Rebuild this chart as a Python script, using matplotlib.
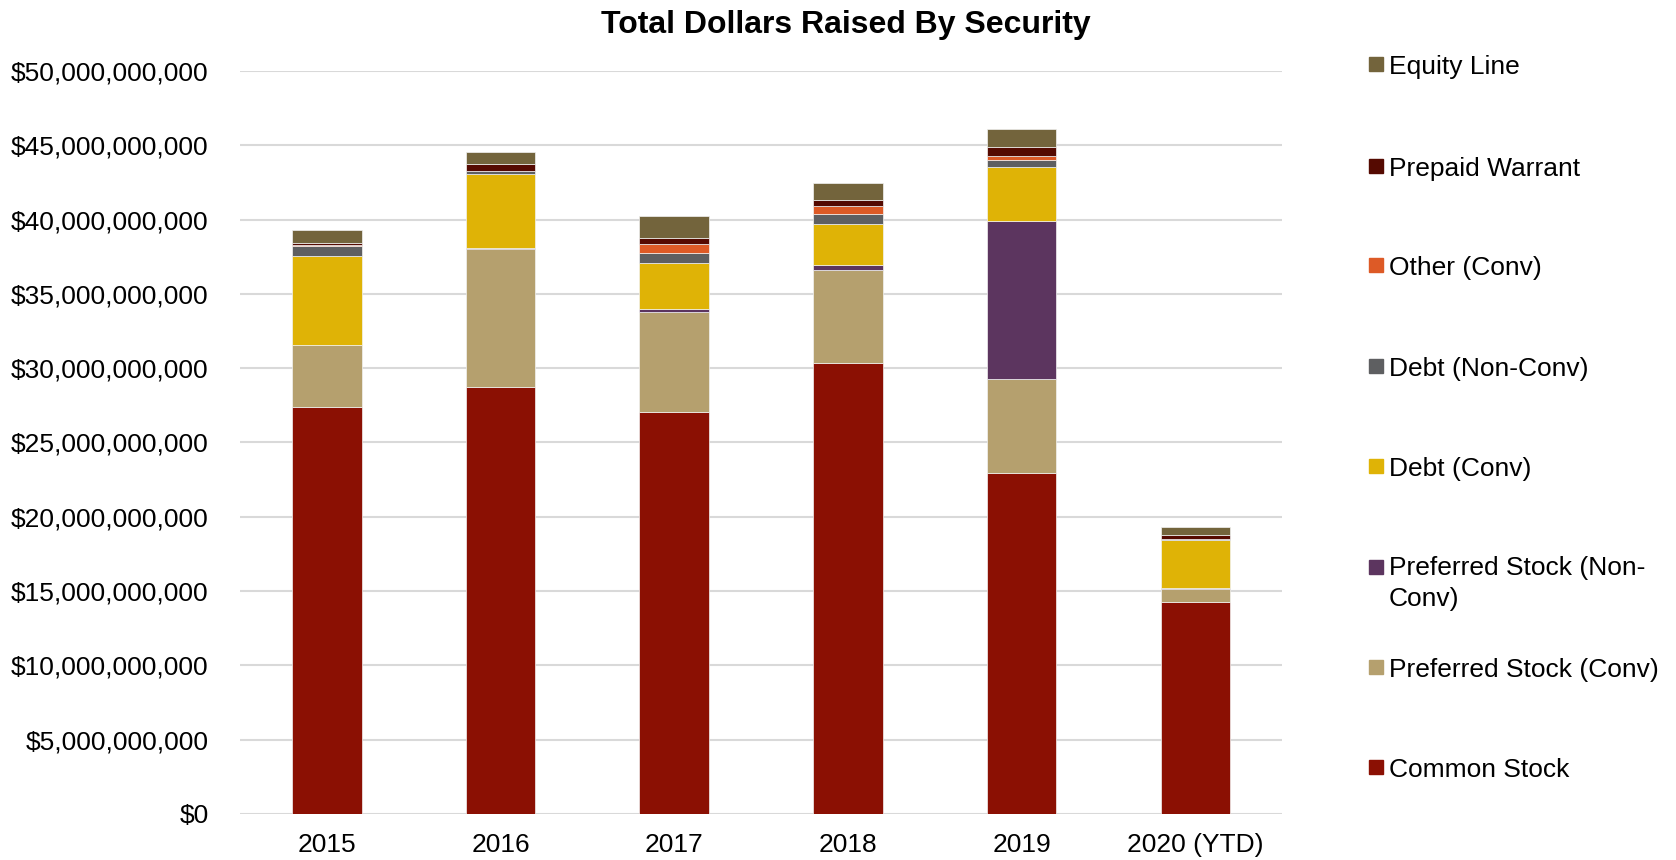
import numpy as np
import matplotlib
matplotlib.use('Agg')
import matplotlib.pyplot as plt
from matplotlib.patches import Rectangle
from matplotlib.ticker import FuncFormatter

plt.rcParams['font.family'] = ['Liberation Sans', 'DejaVu Sans']

# Valores em bilhões de dólares
anos = ['2015', '2016', '2017', '2018', '2019', '2020 (YTD)']
common_stock = [27.38, 28.73, 27.02, 30.35, 22.93, 14.29]
pref_conv = [4.18, 9.32, 6.74, 6.24, 6.32, 0.83]
pref_nonconv = [0.03, 0.03, 0.25, 0.36, 10.67, 0.07]
debt_conv = [5.99, 4.97, 3.08, 2.74, 3.61, 3.27]
debt_nonconv = [0.63, 0.22, 0.67, 0.68, 0.45, 0.05]
other_conv = [0.05, 0.03, 0.58, 0.54, 0.29, 0.02]
prepaid_warrant = [0.19, 0.43, 0.43, 0.40, 0.61, 0.22]
equity_line = [0.82, 0.79, 1.46, 1.17, 1.21, 0.59]

series = [
    ('Common Stock', common_stock, '#8B1003'),
    ('Preferred Stock (Conv)', pref_conv, '#B5A06E'),
    ('Preferred Stock (Non-\nConv)', pref_nonconv, '#5C355F'),
    ('Debt (Conv)', debt_conv, '#DFB306'),
    ('Debt (Non-Conv)', debt_nonconv, '#5E5F61'),
    ('Other (Conv)', other_conv, '#DD5A26'),
    ('Prepaid Warrant', prepaid_warrant, '#550A01'),
    ('Equity Line', equity_line, '#73643C'),
]

fig = plt.figure(figsize=(16.76, 8.60), dpi=100)
ax = fig.add_axes([0.1432, 0.0535, 0.6218, 0.864])

x = np.arange(len(anos))
base = np.zeros(len(anos))
for nome, valores, cor in series:
    v = np.array(valores) * 1e9
    ax.bar(x, v, 0.4, bottom=base, color=cor, edgecolor='#F2F2F2', linewidth=0.5, zorder=3)
    base += v

ax.set_xlim(-0.5, len(anos) - 0.5)
ax.set_ylim(0, 50e9)
ax.set_yticks(np.arange(0, 50e9 + 1, 5e9))
ax.yaxis.set_major_formatter(FuncFormatter(lambda v, p: '${:,.0f}'.format(v)))
ax.set_xticks(x)
ax.set_xticklabels(anos)
ax.tick_params(axis='both', length=0, labelsize=19, colors='black')
ax.tick_params(axis='y', pad=22.5)
ax.tick_params(axis='x', pad=14)
ax.grid(axis='y', color='#D9D9D9', linewidth=1.5, zorder=0)
for lado in ['top', 'right', 'left', 'bottom']:
    ax.spines[lado].set_visible(False)

fig.text(846 / 1676, 0.971, 'Total Dollars Raised By Security', ha='center', va='center',
         fontsize=23, fontweight='bold')

# Legenda manual, de cima para baixo
ys = [64, 166, 265, 366, 466, 567, 667, 767]
for (nome, valores, cor), y in zip(series[::-1], ys):
    yf = 1 - y / 860
    fig.patches.append(Rectangle((1369 / 1676, yf - 7 / 860), 14 / 1676, 14 / 860,
                                 transform=fig.transFigure, color=cor))
    if '\n' in nome:
        fig.text(1389 / 1676, yf + 11 / 860, nome, ha='left', va='top',
                 fontsize=19, linespacing=1.36)
    else:
        fig.text(1389 / 1676, yf - 3 / 860, nome, ha='left', va='center', fontsize=19)

fig.savefig('out.png', dpi=100)
